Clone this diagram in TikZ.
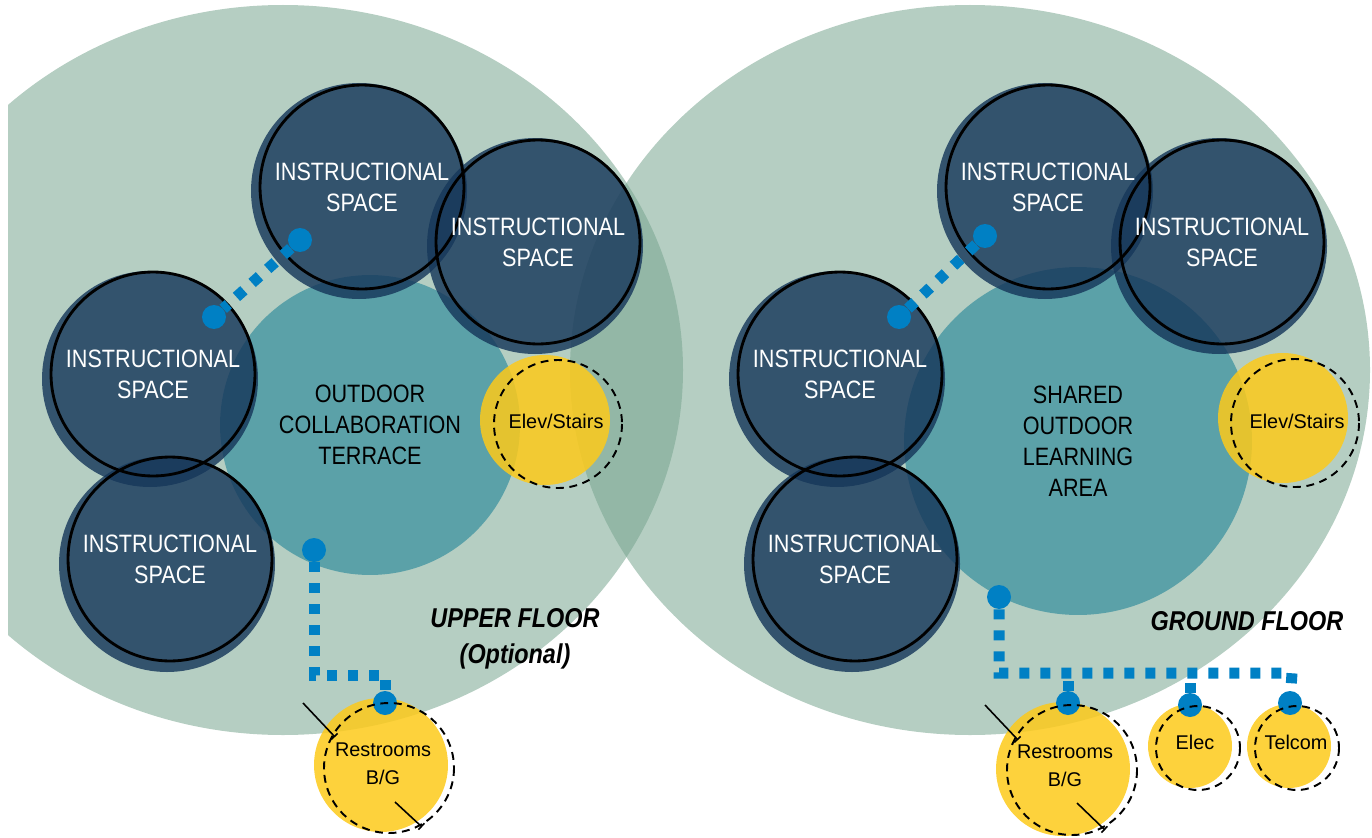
\documentclass[tikz,border=0pt]{standalone}
\usepackage{fontspec}
\setmainfont{Liberation Sans}
\newfontfamily\narrowfont[FakeStretch=0.86]{Liberation Sans}
\usetikzlibrary{positioning,arrows.meta}
\definecolor{floorgreen}{RGB}{118,164,142}
\definecolor{terrace}{RGB}{91,161,168}
\definecolor{navy}{RGB}{22,55,90}
\definecolor{coreyellow}{RGB}{253,202,26}
\definecolor{tapblue}{RGB}{0,128,196}
\tikzset{
    floor/.style = {fill=floorgreen, fill opacity=0.54},
    court/.style = {circle, fill=terrace, inner sep=0pt, align=center,
        font=\narrowfont\fontsize{14.3}{17.6}\selectfont},
    shade/.style = {fill=navy, fill opacity=0.81},
    room/.style = {circle, draw=black, line width=1.6pt, inner sep=0pt,
        minimum size=4.08cm, text=white, align=center,
        font=\narrowfont\fontsize{14.3}{17.6}\selectfont},
    core/.style = {circle, fill=coreyellow, fill opacity=0.85, inner sep=0pt},
    ring/.style = {draw=black, line width=1.1pt, dash pattern=on 4.5pt off 3.2pt},
    tag/.style = {align=center, font=\fontsize{11.3}{15.8}\selectfont},
    tap/.style = {circle, fill=tapblue, minimum size=0.48cm, inner sep=0pt},
    route/.style = {draw=tapblue, line width=0.22cm, dash pattern=on 0.2cm off 0.22cm},
    flag/.style = {align=center, font=\narrowfont\bfseries\itshape\fontsize{15.5}{20.5}\selectfont},
    tick/.style = {draw, line width=0.9pt, -{Bar[width=5pt]}}
}

\begin{document}
\begin{tikzpicture}[x=0.02cm, y=-0.02cm]
    \useasboundingbox (0,0) rectangle (1372,838);
    % floor plates
    \begin{scope}
        \clip (8,0) rectangle (1372,838);
        \fill [floor] (283,370) ellipse [x radius=400, y radius=365];
        \fill [floor] (970,370) ellipse [x radius=400, y radius=365];
    \end{scope}
    % courts
    \node [court, minimum size=6cm] (terrace1) at (370,425) {OUTDOOR\\COLLABORATION\\TERRACE};
    \node [court, minimum size=6.96cm] (terrace2) at (1078,441) {SHARED\\OUTDOOR\\LEARNING\\AREA};
    % elevators
    \node [core, minimum size=2.6cm] (elev1) at (545,420) {};
    \draw [ring] (558,424) circle (64);
    \node [tag] (elevtxt1) at (556,421) {Elev/Stairs};
    \node [core, minimum size=2.6cm] (elev2) at (1283,418) {};
    \draw [ring] (1295,423) circle (64);
    \node [tag] (elevtxt2) at (1297,421) {Elev/Stairs};
    % instructional spaces, upper floor
    \fill [shade] (359,191) circle (108);
    \fill [shade] (535,246) circle (108);
    \fill [shade] (150,379) circle (108);
    \fill [shade] (167,564) circle (108);
    \node [room] (ua) at (362,187) {INSTRUCTIONAL\\SPACE};
    \node [room] (ub) at (538,242) {INSTRUCTIONAL\\SPACE};
    \node [room] (uc) at (153,374) {INSTRUCTIONAL\\SPACE};
    \node [room] (ud) at (170,559) {INSTRUCTIONAL\\SPACE};
    % instructional spaces, ground floor
    \fill [shade] (1045,191) circle (108);
    \fill [shade] (1219,246) circle (108);
    \fill [shade] (837,379) circle (108);
    \fill [shade] (852,564) circle (108);
    \node [room] (ga) at (1048,187) {INSTRUCTIONAL\\SPACE};
    \node [room] (gb) at (1222,242) {INSTRUCTIONAL\\SPACE};
    \node [room] (gc) at (840,374) {INSTRUCTIONAL\\SPACE};
    \node [room] (gd) at (855,559) {INSTRUCTIONAL\\SPACE};
    % support rooms
    \node [core, minimum size=2.68cm] (rest1) at (381,765) {};
    \node [core, minimum size=2.68cm] (rest2) at (1063,769) {};
    \node [core, minimum size=1.68cm] (elec) at (1190,746) {};
    \node [core, minimum size=1.68cm] (telcom) at (1289,746) {};
    % taps and routes
    \node [tap] (u1) at (300,240) {};
    \node [tap] (u2) at (214,317) {};
    \node [tap] (u3) at (314,550) {};
    \node [tap] (u4) at (385,703) {};
    \node [tap] (g1) at (985,236) {};
    \node [tap] (g2) at (899,317) {};
    \node [tap] (g3) at (999,597) {};
    \node [tap] (g4) at (1068,703) {};
    \node [tap] (g5) at (1190,705) {};
    \node [tap] (g6) at (1290,703) {};
    \coordinate (ubend) at (385,675);
    \coordinate (gbend) at (1292,673);
    \draw [route] (u1) -- (u2);
    \draw [route] (u3) |- (ubend) -- (u4);
    \draw [route] (g1) -- (g2);
    \draw [route] (g3) |- (gbend) -- (g6);
    \draw [route] (g4) -- (g4 |- gbend);
    \draw [route] (g5) -- (g5 |- gbend);
    % dashed outlines and labels
    \draw [ring] (389,768) circle (65);
    \draw [ring] (1072,770) circle (65);
    \draw [ring] (1198,748) circle (42);
    \draw [ring] (1297,748) circle (42);
    \node [tag] (resttxt1) at (383,764) {Restrooms\\B/G};
    \node [tag] (resttxt2) at (1065,766) {Restrooms\\B/G};
    \node [tag] (electxt) at (1195,742) {Elec};
    \node [tag] (telcomtxt) at (1296,742) {Telcom};
    \draw [tick] (303,703) -- (335,737);
    \draw [tick] (395,802) -- (422,827);
    \draw [tick] (985,705) -- (1018,740);
    \draw [tick] (1077,803) -- (1105,830);
    % floor names
    \node [flag] (upper) at (515,639) {UPPER FLOOR\\(Optional)};
    \node [flag] (ground) at (1247,621) {GROUND FLOOR};
\end{tikzpicture}
\end{document}
